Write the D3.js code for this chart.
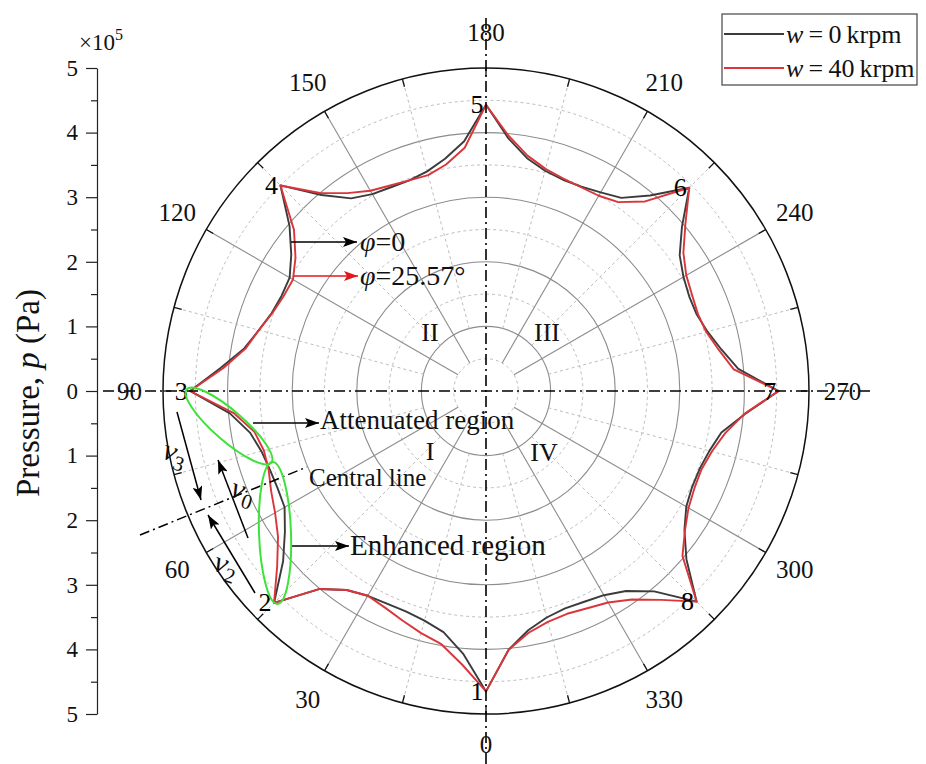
<!DOCTYPE html>
<html>
<head>
<meta charset="utf-8">
<script src="https://cdn.jsdelivr.net/npm/d3@7"></script>
<style>
  body { margin: 0; background: #fff; }
  svg { display: block; font-family: "Liberation Serif", "Times New Roman", serif; }
</style>
</head>
<body>
<svg id="chart" width="926" height="764"></svg>
<script>
// Angular position (degrees) of each sample around the rotor
const angles = [
  0, 5, 10, 15, 20, 25, 30, 35, 40,
  45, 50, 55, 60, 65, 70, 75, 80, 85,
  90, 95, 100, 105, 110, 115, 120, 125, 130,
  135, 140, 145, 150, 155, 160, 165, 170, 175,
  180, 185, 190, 195, 200, 205, 210, 215, 220,
  225, 230, 235, 240, 245, 250, 255, 260, 265,
  270, 275, 280, 285, 290, 295, 300, 305, 310,
  315, 320, 325, 330, 335, 340, 345, 350, 355
];

// Pressure (x10^5 Pa), w = 0 krpm
const pressureW0 = [
  4.65, 4.08, 3.79, 3.68, 3.63, 3.63, 3.66, 3.76, 4.00,
  4.64, 4.10, 3.80, 3.60, 3.56, 3.56, 3.60, 3.71, 3.98,
  4.58, 4.12, 3.80, 3.64, 3.53, 3.49, 3.51, 3.68, 3.97,
  4.50, 3.96, 3.64, 3.52, 3.48, 3.47, 3.52, 3.65, 3.88,
  4.43, 3.93, 3.66, 3.53, 3.48, 3.49, 3.55, 3.65, 3.95,
  4.45, 3.96, 3.66, 3.53, 3.47, 3.47, 3.55, 3.70, 3.92,
  4.53, 4.03, 3.70, 3.58, 3.52, 3.52, 3.58, 3.75, 4.05,
  4.61, 4.05, 3.78, 3.65, 3.60, 3.58, 3.63, 3.76, 4.02
];

// Pressure (x10^5 Pa), w = 40 krpm
const pressureW40 = [
  4.65, 4.25, 3.98, 3.88, 3.78, 3.70, 3.66, 3.76, 4.00,
  4.64, 4.22, 3.93, 3.77, 3.67, 3.58, 3.56, 3.64, 3.92,
  4.58, 4.08, 3.78, 3.64, 3.52, 3.46, 3.45, 3.60, 3.88,
  4.50, 4.00, 3.74, 3.58, 3.51, 3.47, 3.46, 3.56, 3.78,
  4.43, 3.97, 3.70, 3.56, 3.50, 3.48, 3.49, 3.57, 3.83,
  4.45, 4.03, 3.73, 3.58, 3.52, 3.49, 3.53, 3.66, 3.85,
  4.53, 4.02, 3.76, 3.62, 3.55, 3.56, 3.62, 3.76, 3.97,
  4.61, 4.22, 3.94, 3.78, 3.71, 3.67, 3.70, 3.80, 4.02
];

// Pressure peaks (numbered chambers) and their angles
const peakAngles = [0, 45, 90, 135, 180, 225, 270, 315];
const peakLabels = ["1", "2", "3", "4", "5", "6", "7", "8"];

// Axis ticks
const angleTicks = [0, 30, 60, 90, 120, 150, 180, 210, 240, 270, 300, 330];
const angleMinorTicks = [15, 45, 75, 105, 135, 165, 195, 225, 255, 285, 315, 345];
const gridSolid = [1, 2, 3, 4];
const gridDashed = [0.5, 1.5, 2.5, 3.5, 4.5];
const pressureTicks = [-5, -4, -3, -2, -1, 0, 1, 2, 3, 4, 5];
const pressureMinorTicks = [-4.5, -3.5, -2.5, -1.5, -0.5, 0.5, 1.5, 2.5, 3.5, 4.5];
const seriesNames = ["0", "40"];

const svg = d3.select("#chart");
const cx = 486, cy = 391, R = 323;
const rScale = d3.scaleLinear().domain([0, 5]).range([0, R]);
// 0 deg at the bottom, increasing clockwise
const toRad = d => (d + 180) * Math.PI / 180;
const polar = (deg, v) => {
  const a = toRad(deg);
  return [cx + rScale(v) * Math.sin(a), cy - rScale(v) * Math.cos(a)];
};

const defs = svg.append("defs");
function marker(id, color) {
  defs.append("marker")
    .attr("id", id)
    .attr("viewBox", "0 0 14 10")
    .attr("refX", 14).attr("refY", 5)
    .attr("markerWidth", 14).attr("markerHeight", 10)
    .attr("markerUnits", "userSpaceOnUse")
    .attr("orient", "auto")
    .append("path").attr("d", "M0,0 L14,5 L0,10 L3,5 Z").attr("fill", color);
}
marker("arrBlack", "#000");
marker("arrRed", "#e3171b");

const polarG = svg.append("g").attr("transform", `translate(${cx},${cy})`);

// grid circles
polarG.selectAll("circle.gd").data(gridDashed).join("circle")
  .attr("r", d => rScale(d)).attr("fill", "none")
  .attr("stroke", "#bdbdbd").attr("stroke-width", 1).attr("stroke-dasharray", "3,3");
polarG.selectAll("circle.gs").data(gridSolid).join("circle")
  .attr("r", d => rScale(d)).attr("fill", "none")
  .attr("stroke", "#8c8c8c").attr("stroke-width", 1.1);

// radial spokes
const spoke = (deg, r0, r1) => {
  const a = toRad(deg);
  return { x1: r0 * Math.sin(a), y1: -r0 * Math.cos(a), x2: r1 * Math.sin(a), y2: -r1 * Math.cos(a) };
};
polarG.selectAll("line.sd").data(angleMinorTicks).join("line")
  .each(function (d) { const s = spoke(d, rScale(1), rScale(5)); d3.select(this).attr("x1", s.x1).attr("y1", s.y1).attr("x2", s.x2).attr("y2", s.y2); })
  .attr("stroke", "#bdbdbd").attr("stroke-width", 1).attr("stroke-dasharray", "3,3");
polarG.selectAll("line.ss").data(angleTicks.filter(d => d % 90 !== 0)).join("line")
  .each(function (d) { const s = spoke(d, rScale(0.5), rScale(5)); d3.select(this).attr("x1", s.x1).attr("y1", s.y1).attr("x2", s.x2).attr("y2", s.y2); })
  .attr("stroke", "#8c8c8c").attr("stroke-width", 1.1);

// outer ring and its inward ticks
polarG.append("circle").attr("r", rScale(5)).attr("fill", "none").attr("stroke", "#111").attr("stroke-width", 1.5);
polarG.selectAll("line.tk").data(angleTicks.concat(angleMinorTicks)).join("line")
  .each(function (d) { const s = spoke(d, rScale(5) - 8, rScale(5)); d3.select(this).attr("x1", s.x1).attr("y1", s.y1).attr("x2", s.x2).attr("y2", s.y2); })
  .attr("stroke", "#111").attr("stroke-width", 1.3);

// dash-dot cross axes
svg.append("line").attr("x1", cx).attr("x2", cx).attr("y1", 18).attr("y2", 764)
  .attr("stroke", "#000").attr("stroke-width", 1.6).attr("stroke-dasharray", "11,4,2,4");
svg.append("line").attr("x1", 103).attr("x2", 872).attr("y1", cy).attr("y2", cy)
  .attr("stroke", "#000").attr("stroke-width", 1.6).attr("stroke-dasharray", "11,4,2,4");

// angle labels
svg.selectAll("text.ang").data(angleTicks).join("text")
  .attr("x", d => polar(d, 5.52)[0]).attr("y", d => polar(d, 5.52)[1] - (d === 180 ? 2 : 0) - (d === 0 ? 3 : 0))
  .attr("text-anchor", "middle").attr("dominant-baseline", "central")
  .attr("font-size", 25).attr("fill", "#111").text(d => d);

// pressure curves
const line = d3.lineRadial()
  .angle(d => toRad(d.a)).radius(d => rScale(d.v))
  .curve(d3.curveLinearClosed);
const s0 = angles.map((a, i) => ({ a, v: pressureW0[i] }));
const s40 = angles.map((a, i) => ({ a, v: pressureW40[i] }));
polarG.append("path").attr("d", line(s0)).attr("fill", "none")
  .attr("stroke", "#3b3b3b").attr("stroke-width", 1.9).attr("stroke-linejoin", "round");
polarG.append("path").attr("d", line(s40)).attr("fill", "none")
  .attr("stroke", "#d9363b").attr("stroke-width", 1.9).attr("stroke-linejoin", "round");

// chamber numbers at the peaks
svg.selectAll("text.pk").data(peakAngles).join("text")
  .attr("x", d => polar(d, pressureW0[angles.indexOf(d)])[0] - 9)
  .attr("y", d => polar(d, pressureW0[angles.indexOf(d)])[1])
  .attr("text-anchor", "middle").attr("dominant-baseline", "central")
  .attr("font-size", 26).attr("fill", "#000").text((d, i) => peakLabels[i]);

// quadrant numerals
const quads = [["II", 430, 332], ["III", 547, 332], ["I", 430, 451], ["IV", 544, 452]];
svg.selectAll("text.q").data(quads).join("text")
  .attr("x", d => d[1]).attr("y", d => d[2])
  .attr("text-anchor", "middle").attr("dominant-baseline", "central")
  .attr("font-size", 26).attr("fill", "#111").text(d => d[0]);

// left pressure axis
const yScale = d3.scaleLinear().domain([-5, 5]).range([cy + R, cy - R]);
const yAxis = svg.append("g").attr("transform", "translate(97,0)")
  .call(d3.axisLeft(yScale).tickValues(pressureTicks).tickSize(11).tickSizeOuter(0).tickPadding(8)
    .tickFormat(d => Math.abs(d)));
yAxis.select(".domain").attr("stroke", "#222").attr("stroke-width", 1.2);
yAxis.selectAll(".tick line").attr("stroke", "#222").attr("stroke-width", 1.2);
yAxis.selectAll(".tick text").attr("font-size", 23).attr("font-family", "Liberation Serif, serif").attr("fill", "#111");
const yMinor = svg.append("g").attr("transform", "translate(97,0)")
  .call(d3.axisLeft(yScale).tickValues(pressureMinorTicks).tickSize(6).tickSizeOuter(0).tickFormat(""));
yMinor.select(".domain").remove();
yMinor.selectAll(".tick line").attr("stroke", "#222").attr("stroke-width", 1.2);

const mult = svg.append("text").attr("x", 79).attr("y", 50).attr("font-size", 23).attr("fill", "#111");
mult.append("tspan").text("×10");
mult.append("tspan").attr("font-size", 16).attr("dy", -10).text("5");

const yTitle = svg.append("text").attr("transform", "translate(39,393) rotate(-90)")
  .attr("text-anchor", "middle").attr("font-size", 33).attr("fill", "#111");
yTitle.append("tspan").text("Pressure, ");
yTitle.append("tspan").attr("font-style", "italic").text("p");
yTitle.append("tspan").text(" (Pa)");

// legend
const lg = svg.append("g");
lg.append("rect").attr("x", 722).attr("y", 14).attr("width", 195).attr("height", 71)
  .attr("fill", "#fff").attr("stroke", "#444").attr("stroke-width", 1.2);
const legColors = ["#3b3b3b", "#d9363b"];
seriesNames.forEach((n, i) => {
  const y = 34 + i * 34;
  lg.append("line").attr("x1", 724).attr("x2", 784).attr("y1", y).attr("y2", y)
    .attr("stroke", legColors[i]).attr("stroke-width", 1.8);
  const t = lg.append("text").attr("x", 786).attr("y", y + 9).attr("font-size", 26).attr("fill", "#111");
  t.append("tspan").attr("font-style", "italic").text("w");
  t.append("tspan").text("\u2009=\u2009" + n + "\u2009krpm");
});

// annotations
const ann = svg.append("g");
const arrow = (x1, y1, x2, y2, color, id) => ann.append("line")
  .attr("x1", x1).attr("y1", y1).attr("x2", x2).attr("y2", y2)
  .attr("stroke", color).attr("stroke-width", 1.5).attr("marker-end", `url(#${id})`);

arrow(291, 242, 357, 242, "#000", "arrBlack");
arrow(294, 276, 358, 276, "#e3171b", "arrRed");
const phi0 = ann.append("text").attr("x", 360).attr("y", 251).attr("font-size", 28).attr("fill", "#111");
phi0.append("tspan").attr("font-style", "italic").text("φ");
phi0.append("tspan").text("=0");
const phi1 = ann.append("text").attr("x", 360).attr("y", 285).attr("font-size", 28).attr("fill", "#111");
phi1.append("tspan").attr("font-style", "italic").text("φ");
phi1.append("tspan").text("=25.57°");

arrow(253, 423, 319, 423, "#000", "arrBlack");
ann.append("text").attr("x", 320).attr("y", 429).attr("font-size", 27).attr("fill", "#111").text("Attenuated region");

ann.append("line").attr("x1", 140).attr("y1", 535).attr("x2", 307).attr("y2", 467)
  .attr("stroke", "#000").attr("stroke-width", 1.5).attr("stroke-dasharray", "10,4,2,4");
ann.append("text").attr("x", 309).attr("y", 486).attr("font-size", 25).attr("fill", "#111").text("Central line");

arrow(291, 546, 349, 546, "#000", "arrBlack");
ann.append("text").attr("x", 350).attr("y", 555).attr("font-size", 29).attr("fill", "#111").text("Enhanced region");

// green highlight ellipses
ann.append("ellipse").attr("cx", 0).attr("cy", 0).attr("rx", 56).attr("ry", 15)
  .attr("transform", "translate(229,426) rotate(41)")
  .attr("fill", "none").attr("stroke", "#3ee23a").attr("stroke-width", 2);
ann.append("ellipse").attr("cx", 0).attr("cy", 0).attr("rx", 16).attr("ry", 71)
  .attr("transform", "translate(275,533) rotate(-2)")
  .attr("fill", "none").attr("stroke", "#3ee23a").attr("stroke-width", 2);

// velocity arrows
arrow(177, 412, 201, 500, "#000", "arrBlack");
arrow(248, 538, 218, 460, "#000", "arrBlack");
arrow(255, 593, 208, 515, "#000", "arrBlack");
const vLabel = (x, y, sub) => {
  const t = ann.append("text").attr("transform", `translate(${x},${y}) rotate(18)`)
    .attr("font-size", 30).attr("fill", "#111");
  t.append("tspan").attr("font-style", "italic").text("v");
  t.append("tspan").attr("font-size", 21).attr("dy", 7).text(sub);
};
vLabel(161, 458, "3");
vLabel(229, 496, "0");
vLabel(212, 570, "2");
</script>
</body>
</html>
